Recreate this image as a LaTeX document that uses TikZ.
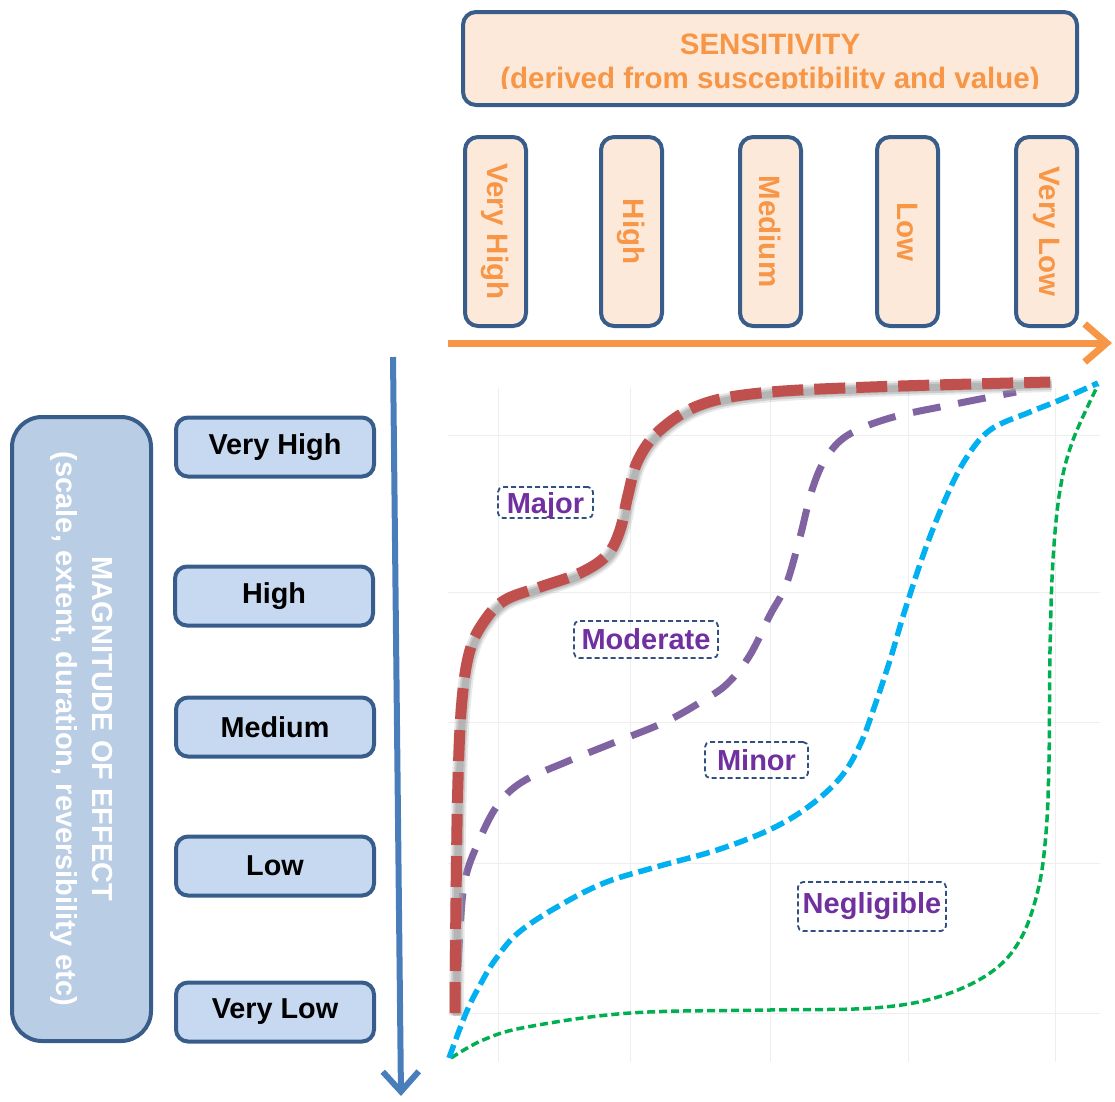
\documentclass[tikz,border=0pt]{standalone}
\usepackage{fontspec}
\setmainfont{Liberation Sans}
\usetikzlibrary{arrows.meta}
\definecolor{bord}{HTML}{385D8A}
\definecolor{bord2}{HTML}{2F5080}
\definecolor{peach}{HTML}{FDE9D9}
\definecolor{orangeC}{HTML}{F79646}
\definecolor{lblue}{HTML}{C6D9F1}
\definecolor{bigblue}{HTML}{B9CDE5}
\definecolor{axisblue}{HTML}{4A7EBB}
\definecolor{redC}{HTML}{C0504D}
\definecolor{purpC}{HTML}{8064A2}
\definecolor{cyanC}{HTML}{00B0F0}
\definecolor{greenC}{HTML}{00B050}
\definecolor{labpurp}{HTML}{7030A0}
\definecolor{gridC}{HTML}{EEEEEE}
\begin{document}
\begin{tikzpicture}[x=1pt,y=-1pt,
  peachbox/.style={draw=bord, line width=4pt, fill=peach, rounded corners=13pt, inner sep=0pt},
  collabel/.style={peachbox, rotate=-90, minimum width=189pt, minimum height=61pt,
     text=orangeC, font=\bfseries\fontsize{29.5}{30}\selectfont},
  maglabel/.style={draw=bord, line width=4pt, fill=lblue, rounded corners=12pt, inner sep=0pt,
     minimum width=198pt, minimum height=59pt, font=\bfseries\fontsize{28.8}{30}\selectfont},
  zonelabel/.style={draw=bord2, dash pattern=on 5pt off 3pt, line width=1.8pt, rounded corners=5pt,
     inner sep=0pt, text=labpurp, font=\bfseries\fontsize{29}{30}\selectfont},
  gridline/.style={draw=gridC, line width=1pt},
  curve/.style={smooth, tension=0.6}
]
\useasboundingbox (0,0) rectangle (1115,1101);

% ---------- sensitivity header ----------
\node[peachbox, minimum width=614pt, minimum height=93pt] (sens) at (770,58.5) {};
\begin{scope}
  \clip (465,12) rectangle (1077,88.5);
  \node[align=center, text=orangeC, font=\bfseries\fontsize{29.5}{34}\selectfont, inner sep=0pt]
    (senstext) at (770,64) {SENSITIVITY\\(derived from susceptibility and value)};
\end{scope}

\node[collabel] (cVH) at (495.5,231.5) {Very High};
\node[collabel] (cH)  at (631.5,231.5) {High};
\node[collabel] (cM)  at (770.5,231.5) {Medium};
\node[collabel] (cL)  at (907.5,231.5) {Low};
\node[collabel] (cVL) at (1046.5,231.5) {Very Low};

% sensitivity axis
\coordinate (sx0) at (448,343);
\coordinate (sx1) at (1112,343);
\draw[orangeC, line width=7pt, -{Straight Barb[length=22pt, width=38pt, line width=7pt]}] (sx0) -- (sx1);

% ---------- magnitude side ----------
\node[draw=bord, line width=4pt, fill=bigblue, rounded corners=30pt, rotate=-90,
      minimum width=624pt, minimum height=139pt, inner sep=0pt, align=center,
      text=white, font=\bfseries\fontsize{29}{36}\selectfont] (mag) at (81.5,729)
      {MAGNITUDE OF EFFECT\\(scale, extent, duration, reversibility etc)};

\node[maglabel] (mVH) at (275,447) {Very High};
\node[maglabel] (mH)  at (274,596) {High};
\node[maglabel] (mM)  at (275,727) {Medium};
\node[maglabel] (mL)  at (275,866) {Low};
\node[maglabel] (mVL) at (275,1012) {Very Low};

% magnitude axis
\coordinate (my0) at (393,357);
\coordinate (my1) at (401,1096);
\draw[axisblue, line width=6pt, -{Straight Barb[length=20pt, width=36pt, line width=6pt]}] (my0) -- (my1);

% ---------- grid ----------
\foreach \yy in {435,592,722,863,1013} {\draw[gridline] (448,\yy) -- (1100,\yy);}
\foreach \xx in {498,630,770,908,1055} {\draw[gridline] (\xx,388) -- (\xx,1062);}

% ---------- curves ----------
\draw[greenC, line width=3.5pt, dash pattern=on 8pt off 4pt] plot[curve] coordinates {
 (451,1058) (483,1040) (527,1027) (630,1013) (769,1010) (873,1008) (938,997) (990,973)
 (1020,940) (1038,890) (1046,833) (1049,760) (1050,650) (1053,560) (1060,490) (1073,440) (1098,385)};

\draw[cyanC, line width=5.5pt, dash pattern=on 14pt off 6pt] plot[curve] coordinates {
 (449,1058) (466,1013) (480,985) (495,960) (518,933) (557,907) (604,883) (656,867) (717,850)
 (769,830) (808,807) (840,778) (860,745) (875,705) (890,660) (905,610) (925,550) (945,500)
 (965,460) (990,430) (1030,412) (1060,400) (1098,383)};

\draw[purpC, line width=7pt, dash pattern=on 28pt off 18pt] plot[curve] coordinates {
 (456,1013) (460,930) (465,880) (478,843) (497,806) (522,782) (566,762) (613,743) (665,722)
 (704,700) (728,683) (750,655) (770,615) (786,585) (800,537) (812,490) (826,458) (848,435)
 (890,418) (950,405) (1016,392)};

% red curve with soft shadow
\foreach \ww/\op in {15/0.25, 11/0.45, 7/0.6} {
\draw[gray!70, opacity=\op, line width=\ww pt, shift={(1.5,2.5)}] plot[curve] coordinates {
 (455,1013) (456,900) (458,780) (462,700) (470,650) (485,620) (505,600) (540,587) (580,573)
 (607,555) (620,530) (628,495) (638,460) (660,430) (700,405) (760,393) (870,387) (1050,382)};
}
\draw[redC, line width=11pt, dash pattern=on 31pt off 11pt] plot[curve] coordinates {
 (455,1013) (456,900) (458,780) (462,700) (470,650) (485,620) (505,600) (540,587) (580,573)
 (607,555) (620,530) (628,495) (638,460) (660,430) (700,405) (760,393) (870,387) (1050,382)};

% ---------- zone labels ----------
\node[zonelabel, minimum width=95pt, minimum height=31pt] (zMaj) at (545.5,502.5) {};
\begin{scope}
  \clip (499,488) rectangle (592,517);
  \node[text=labpurp, font=\bfseries\fontsize{29}{30}\selectfont, inner sep=0pt] (zMajT) at (545.5,506) {Major};
\end{scope}
\node[zonelabel, minimum width=144pt, minimum height=37pt] (zMod) at (646,639.5) {Moderate};
\node[zonelabel, minimum width=103pt, minimum height=36pt] (zMin) at (756.5,760) {Minor};
\node[zonelabel, minimum width=148pt, minimum height=49pt] (zNeg) at (872,906.5) {Negligible};

\end{tikzpicture}
\end{document}
